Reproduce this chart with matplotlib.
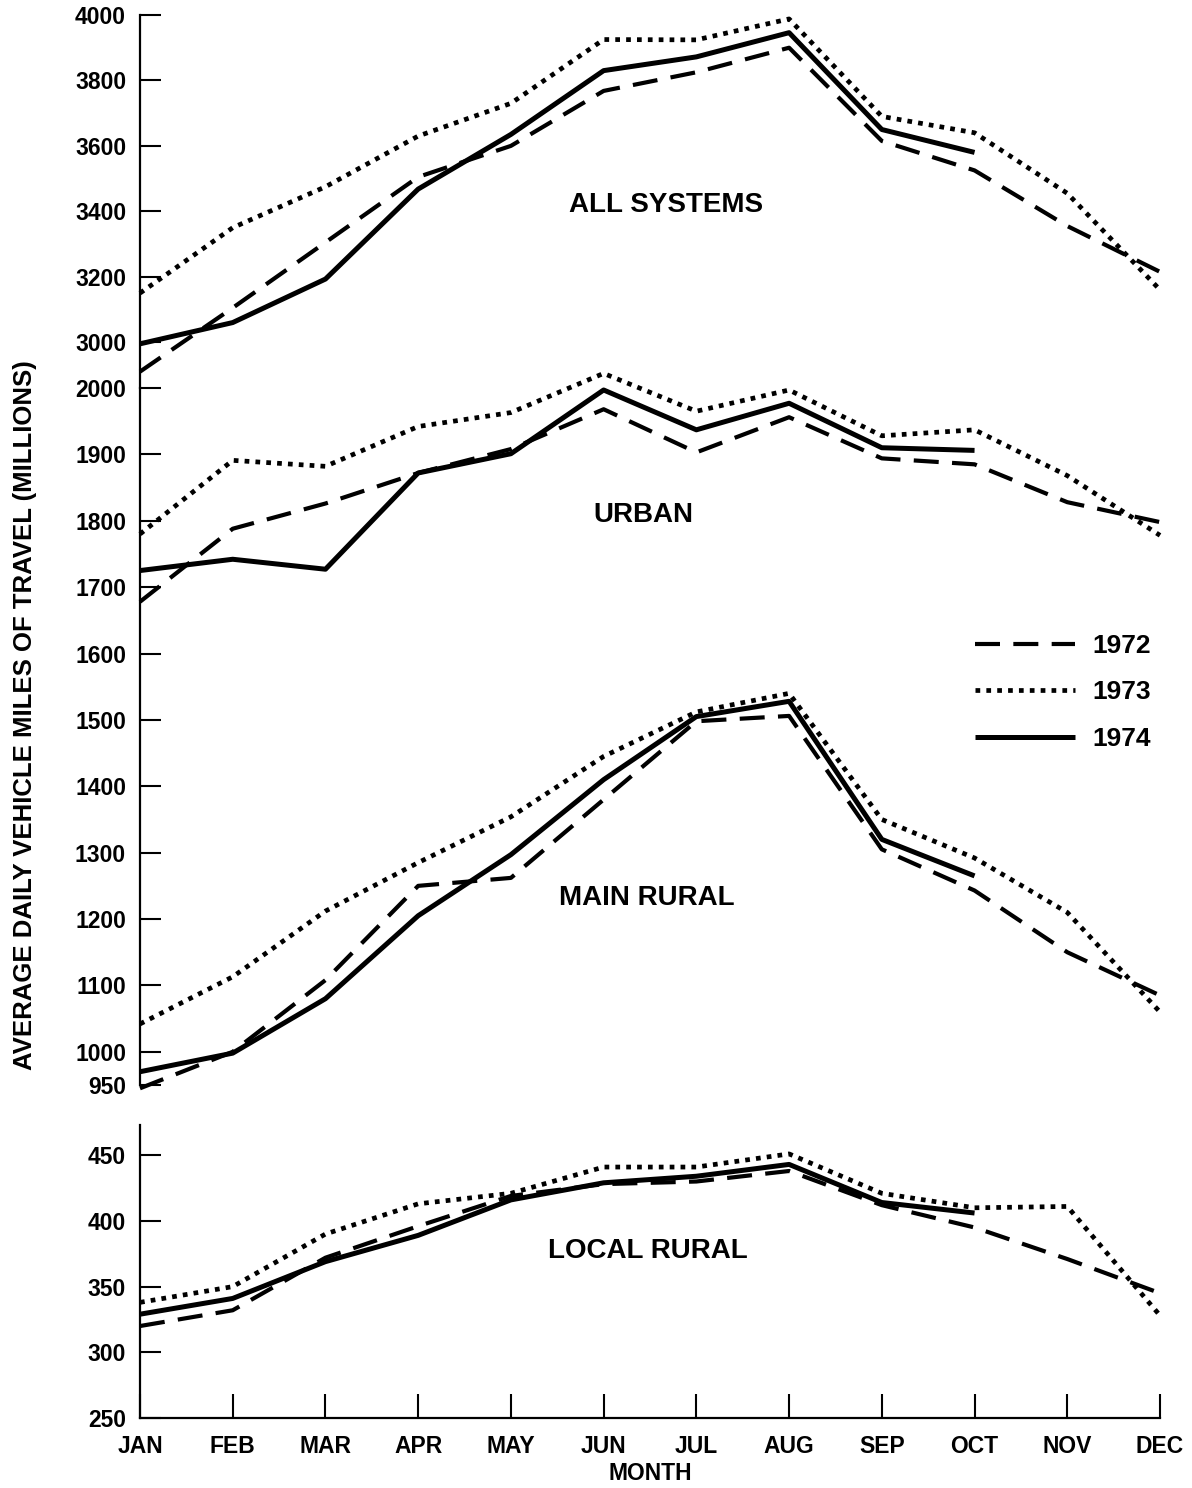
import matplotlib
matplotlib.use("Agg")
import matplotlib.pyplot as plt
from matplotlib.lines import Line2D

plt.rcParams["font.family"] = ["Liberation Sans", "DejaVu Sans"]

months = ["JAN", "FEB", "MAR", "APR", "MAY", "JUN",
          "JUL", "AUG", "SEP", "OCT", "NOV", "DEC"]
years = ["1972", "1973", "1974"]

# all systems (1974 only runs through OCT)
all_1972 = [2910, 3105, 3305, 3505, 3600, 3768, 3825, 3900, 3615, 3525, 3355, 3215]
all_1973 = [3150, 3350, 3475, 3630, 3730, 3925, 3924, 3988, 3690, 3640, 3455, 3160]
all_1974 = [2995, 3060, 3193, 3468, 3635, 3830, 3872, 3946, 3650, 3580]

# urban
urban_1972 = [1678, 1788, 1826, 1872, 1908, 1968, 1903, 1956, 1894, 1885, 1828, 1798]
urban_1973 = [1780, 1891, 1882, 1942, 1963, 2022, 1965, 1997, 1928, 1937, 1868, 1778]
urban_1974 = [1725, 1742, 1727, 1872, 1901, 1997, 1937, 1977, 1910, 1906]

# main rural
rural_1972 = [945, 1000, 1108, 1250, 1262, 1380, 1498, 1506, 1305, 1243, 1150, 1085]
rural_1973 = [1042, 1113, 1212, 1285, 1354, 1445, 1512, 1540, 1350, 1292, 1210, 1060]
rural_1974 = [970, 998, 1080, 1205, 1297, 1410, 1505, 1528, 1320, 1265]

# local rural
local_1972 = [320, 332, 372, 396, 419, 428, 430, 438, 412, 395, 371, 345]
local_1973 = [338, 350, 390, 413, 421, 441, 441, 451, 421, 410, 411, 328]
local_1974 = [329, 341, 369, 389, 416, 429, 434, 443, 414, 406]

all_ticks = [3000, 3200, 3400, 3600, 3800, 4000]
mid_ticks = [950, 1000, 1100, 1200, 1300, 1400, 1500, 1600, 1700, 1800, 1900, 2000]
local_ticks = [250, 300, 350, 400, 450]

W, H = 1192, 1488
X0, X1 = 140, 1160

styles = {
    "1972": dict(color="black", lw=3.0, linestyle=(0, (6, 3.2))),
    "1973": dict(color="black", lw=3.4, linestyle=(0, (1, 1.3))),
    "1974": dict(color="black", lw=3.6, linestyle="-", solid_capstyle="butt"),
}


def box(top, bottom):
    return [X0 / W, 1 - bottom / H, (X1 - X0) / W, (bottom - top) / H]


def setup(ax, lo, hi, ticks, bottom_axis=False):
    ax.set_xlim(0, 11)
    ax.set_ylim(lo, hi)
    ax.patch.set_alpha(0)
    for s in ["top", "right"]:
        ax.spines[s].set_visible(False)
    ax.spines["left"].set_linewidth(1.6)
    ax.spines["bottom"].set_linewidth(1.6)
    ax.spines["bottom"].set_visible(bottom_axis)
    ax.set_yticks(ticks)
    ax.set_yticklabels([str(t) for t in ticks], fontsize=16.5, fontweight="bold")
    ax.tick_params(axis="y", direction="in", length=15, width=1.5, pad=10)
    if bottom_axis:
        ax.set_xticks(range(len(months)))
        ax.set_xticklabels(months, fontsize=16.5, fontweight="bold")
        ax.tick_params(axis="x", direction="in", length=17, width=1.5, pad=12)
    else:
        ax.tick_params(axis="x", bottom=False, labelbottom=False)


def draw(ax, series):
    for yr, vals in zip(years, series):
        ax.plot(range(len(vals)), vals, clip_on=False, **styles[yr])


fig = plt.figure(figsize=(W / 100, H / 100), dpi=100)

ax_all = fig.add_axes(box(15, 388))
ax_mid = fig.add_axes(box(388, 1085))
ax_loc = fig.add_axes(box(1125, 1418))

setup(ax_all, 2860, 4000, all_ticks)
setup(ax_mid, 950, 2000, mid_ticks)
setup(ax_loc, 250, 473, local_ticks, bottom_axis=True)

draw(ax_all, [all_1972, all_1973, all_1974])
draw(ax_mid, [urban_1972, urban_1973, urban_1974])
draw(ax_mid, [rural_1972, rural_1973, rural_1974])
draw(ax_loc, [local_1972, local_1973, local_1974])

lab = dict(fontsize=20, ha="center", va="center", fontweight="bold")
ax_all.text(5.67, 3419, "ALL SYSTEMS", **lab)
ax_mid.text(5.43, 1809, "URBAN", **lab)
ax_mid.text(5.47, 1232, "MAIN RURAL", **lab)
ax_loc.text(5.48, 377, "LOCAL RURAL", **lab)

handles = [Line2D([], [], **styles[yr]) for yr in years]
leg = fig.legend(handles, years, loc="upper left", bbox_to_anchor=(975 / W, 1 - 634 / H),
                 frameon=False, handlelength=3.8, handletextpad=0.65,
                 labelspacing=0.85, borderpad=0, borderaxespad=0,
                 prop=dict(size=19, weight="bold"))

fig.text(25 / W, 1 - 715 / H, "AVERAGE DAILY VEHICLE MILES OF TRAVEL (MILLIONS)",
         rotation=90, ha="center", va="center", fontsize=18.5, fontweight="bold")
fig.text((X0 + X1) / 2 / W, 1 - 1473 / H, "MONTH", ha="center", va="center",
         fontsize=16.5, fontweight="bold")

fig.savefig("out.png", dpi=100)
